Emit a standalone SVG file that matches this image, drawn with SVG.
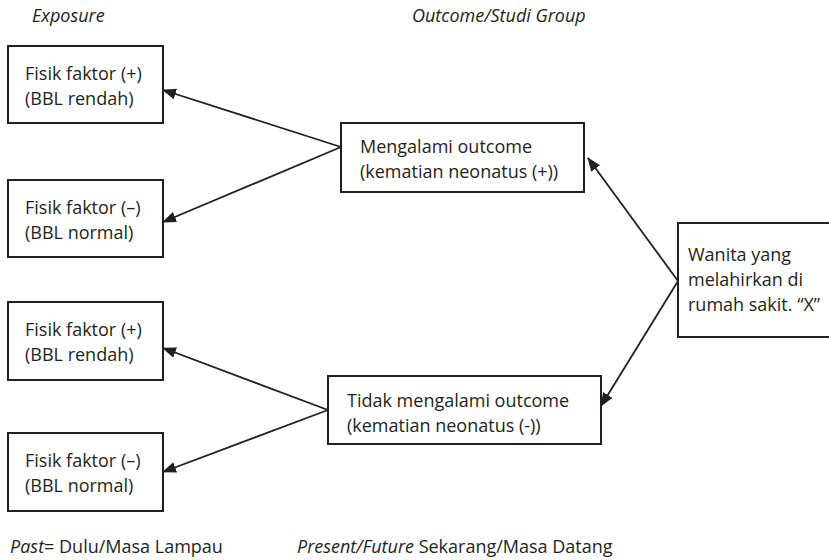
<svg xmlns="http://www.w3.org/2000/svg" width="829" height="560" viewBox="0 0 829 560">
<defs>
<marker id="ah" markerUnits="userSpaceOnUse" markerWidth="15" markerHeight="12" refX="13" refY="5.5" orient="auto"><path d="M0,0 L14,5.5 L0,11 z" fill="#231f20"/></marker>
</defs>
<style>
.box{fill:#fff;stroke:#231f20;stroke-width:2}
.t{font-family:"Open Sans","Noto Sans",sans-serif;font-size:18px;fill:#231f20}
.i{font-style:italic}
.c{stroke:#231f20;stroke-width:1.8;fill:none;marker-end:url(#ah)}
</style>
<rect width="829" height="560" fill="#fff"/>
<g id="labels">
<text class="t i" x="32" y="22">Exposure</text>
<text class="t i" x="412" y="22">Outcome/Studi Group</text>
<text class="t" x="10" y="553"><tspan class="i">Past</tspan>= Dulu/Masa Lampau</text>
<text class="t" x="297" y="553"><tspan class="i">Present/Future</tspan> Sekarang/Masa Datang</text>
</g>
<g id="connectors">
<path class="c" d="M341,147 L163,90"/>
<path class="c" d="M341,147 L163,222"/>
<path class="c" d="M328,410 L163,348"/>
<path class="c" d="M328,410 L163,472"/>
<path class="c" d="M678,281 L588,158"/>
<path class="c" d="M678,281 L601,406"/>
</g>
<g id="f1"><rect class="box" x="8" y="46" width="155" height="77"/><text class="t" x="25" y="80">Fisik faktor (+)</text><text class="t" x="25" y="105">(BBL rendah)</text></g>
<g id="f2"><rect class="box" x="8" y="180" width="155" height="77"/><text class="t" x="25" y="214">Fisik faktor (–)</text><text class="t" x="25" y="239">(BBL normal)</text></g>
<g id="f3"><rect class="box" x="8" y="302" width="155" height="78"/><text class="t" x="25" y="336">Fisik faktor (+)</text><text class="t" x="25" y="361">(BBL rendah)</text></g>
<g id="f4"><rect class="box" x="8" y="433" width="155" height="78"/><text class="t" x="25" y="467">Fisik faktor (–)</text><text class="t" x="25" y="492">(BBL normal)</text></g>
<g id="outcome-pos"><rect class="box" x="341" y="123" width="243" height="69"/><text class="t" x="360" y="153">Mengalami outcome</text><text class="t" x="360" y="178">(kematian neonatus (+))</text></g>
<g id="outcome-neg"><rect class="box" x="328" y="376" width="273" height="68"/><text class="t" x="347" y="407">Tidak mengalami outcome</text><text class="t" x="347" y="432">(kematian neonatus (-))</text></g>
<g id="wanita"><rect class="box" x="678" y="223" width="160" height="114"/><text class="t" x="688" y="261">Wanita yang</text><text class="t" x="688" y="286">melahirkan di</text><text class="t" x="688" y="311">rumah sakit. “X”</text></g>
</svg>
